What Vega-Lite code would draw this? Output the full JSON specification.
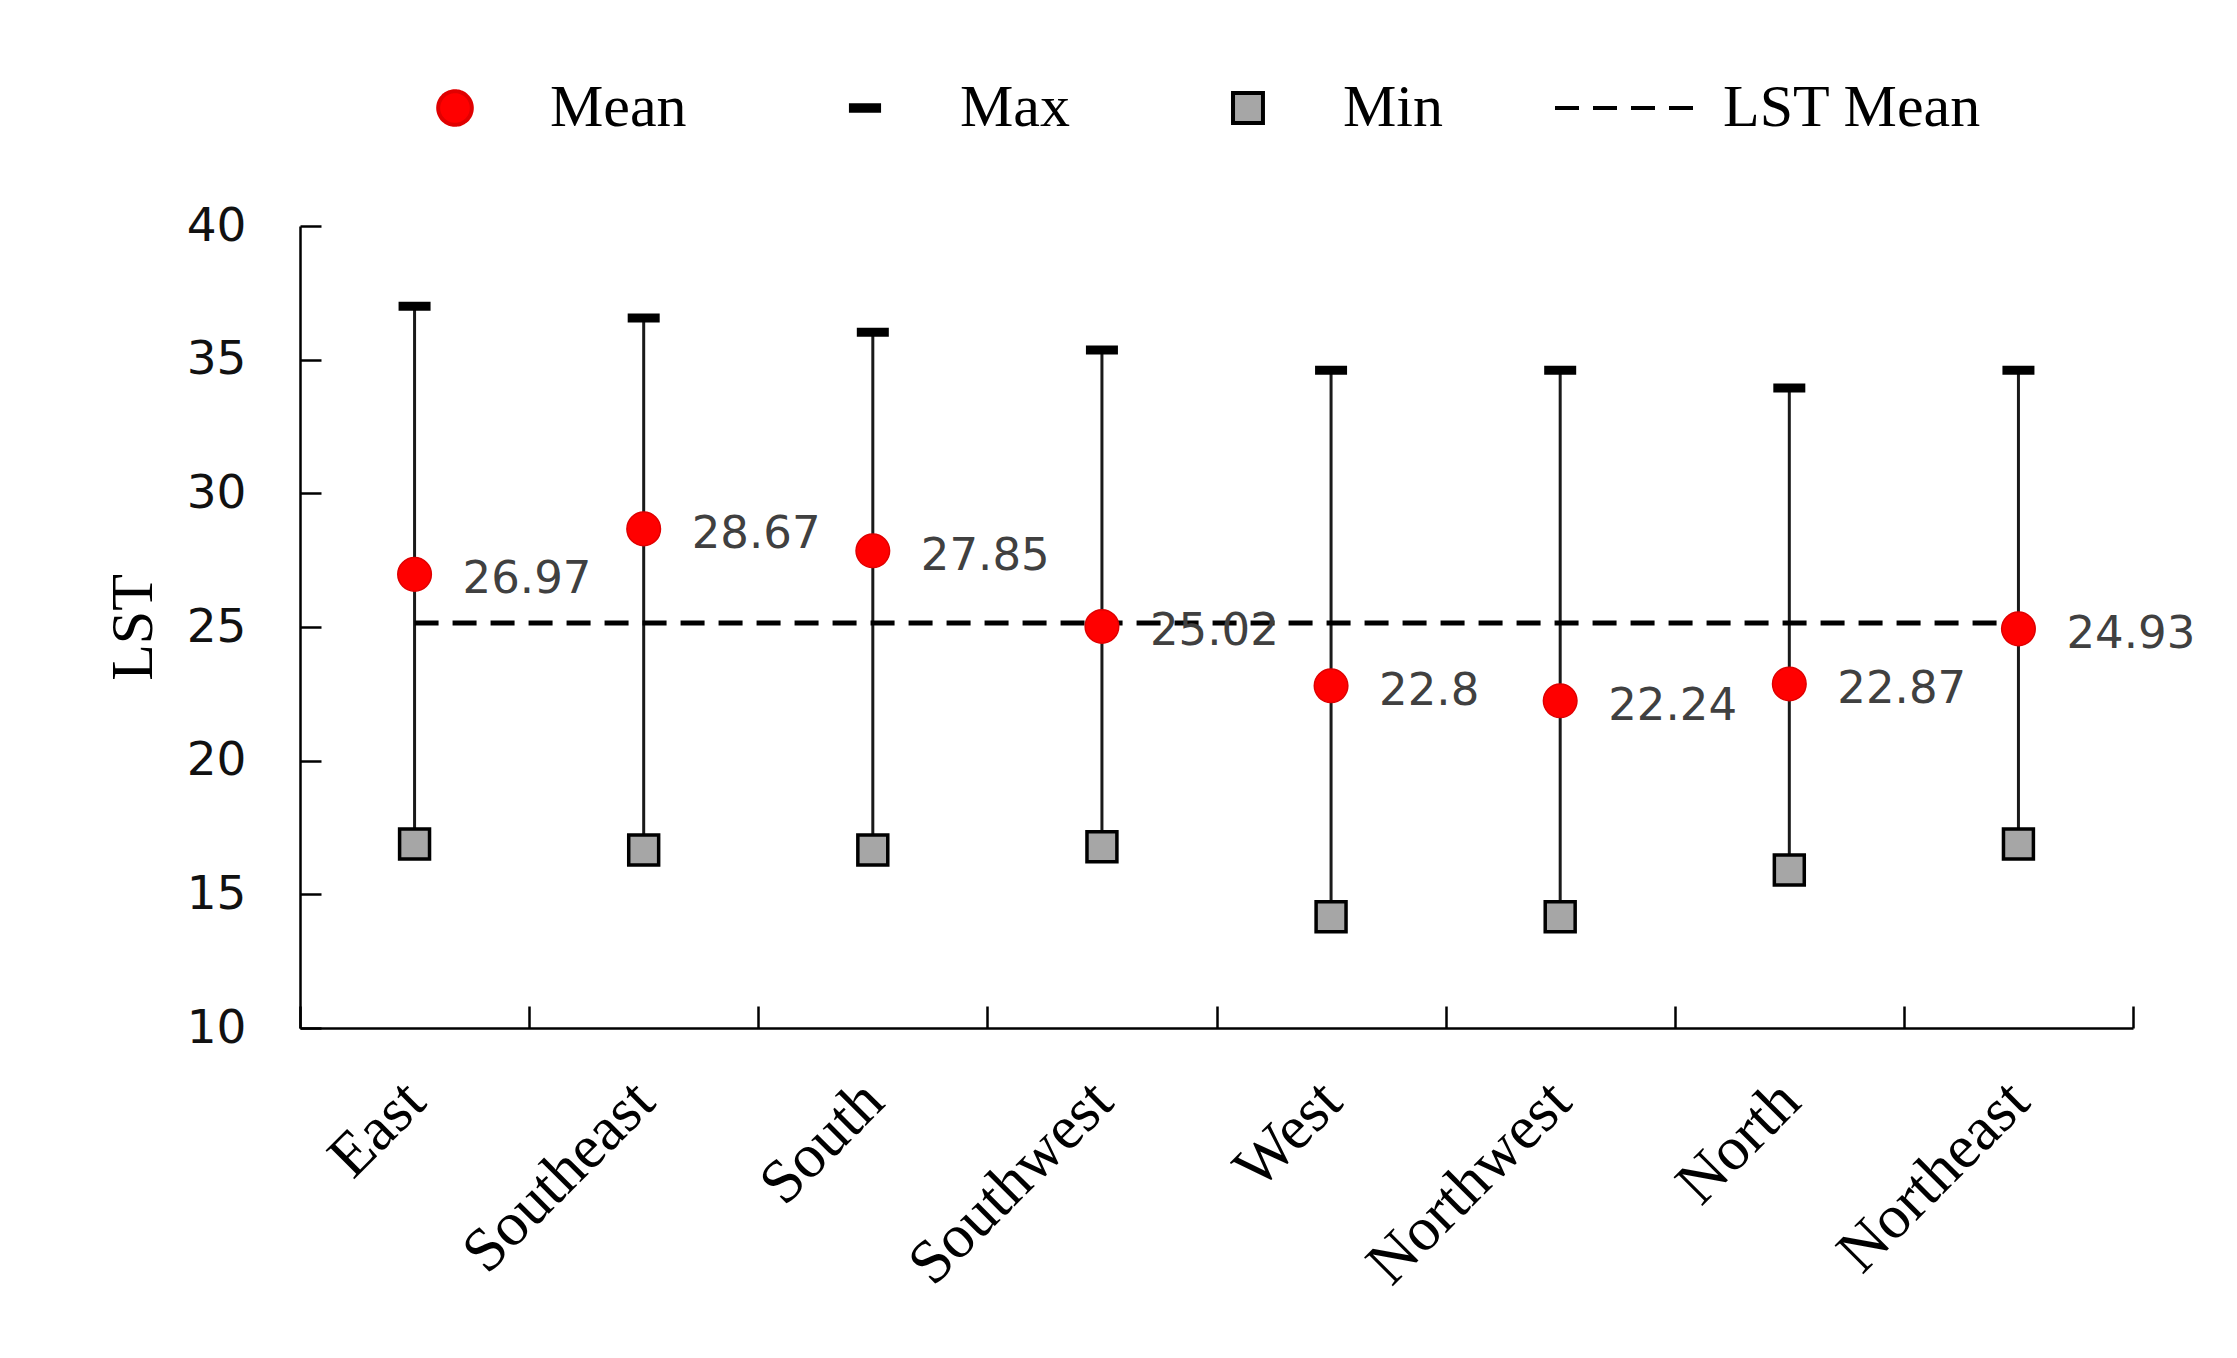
{
  "$schema": "https://vega.github.io/schema/vega-lite/v6.json",
  "autosize": "none",
  "width": 1833,
  "height": 802,
  "padding": {"left": 300, "top": 226, "right": 104, "bottom": 330},
  "background": "white",
  "datasets": {
    "dirs": [
      {"dir": "East", "mean": 26.97, "max": 37.0, "min": 16.88},
      {"dir": "Southeast", "mean": 28.67, "max": 36.56, "min": 16.66},
      {"dir": "South", "mean": 27.85, "max": 36.03, "min": 16.66},
      {"dir": "Southwest", "mean": 25.02, "max": 35.36, "min": 16.78},
      {"dir": "West", "mean": 22.8, "max": 34.6, "min": 14.16},
      {"dir": "Northwest", "mean": 22.24, "max": 34.6, "min": 14.16},
      {"dir": "North", "mean": 22.87, "max": 33.94, "min": 15.91},
      {"dir": "Northeast", "mean": 24.93, "max": 34.6, "min": 16.88}
    ],
    "lst": [{"from": "East", "to": "Northeast", "lst": 25.15}]
  },
  "data": {"name": "dirs"},
  "encoding": {
    "x": {
      "field": "dir",
      "type": "nominal",
      "sort": null,
      "scale": {"type": "band", "paddingInner": 0, "paddingOuter": 0},
      "axis": {
        "title": null,
        "tickBand": "extent",
        "tickSize": -22,
        "tickWidth": 2.5,
        "tickColor": "black",
        "domainColor": "black",
        "domainWidth": 2.5,
        "labelAngle": -45,
        "labelAlign": "right",
        "labelBaseline": "middle",
        "labelPadding": 85,
        "labelFont": "Liberation Serif",
        "labelFontSize": 62,
        "labelColor": "black",
        "labelLimit": 500,
        "grid": false
      }
    }
  },
  "layer": [
    {
      "mark": {"type": "rule", "color": "#1a1a1a", "strokeWidth": 3},
      "encoding": {
        "y": {
          "field": "min",
          "type": "quantitative",
          "scale": {"domain": [10, 40], "nice": false, "zero": false},
          "axis": {
            "title": "LST",
            "values": [10, 15, 20, 25, 30, 35, 40],
            "grid": false,
            "tickSize": -21,
            "tickWidth": 2.5,
            "tickColor": "black",
            "domainColor": "black",
            "domainWidth": 2.5,
            "labelFont": "DejaVu Sans",
            "labelFontSize": 47,
            "labelColor": "#111111",
            "labelPadding": 75,
            "titleFont": "Liberation Serif",
            "titleFontSize": 60,
            "titleFontWeight": "normal",
            "titleColor": "black",
            "titlePadding": 22
          }
        },
        "y2": {"field": "max"}
      }
    },
    {
      "data": {"name": "lst"},
      "mark": {"type": "rule", "strokeWidth": 5},
      "encoding": {
        "x": {"field": "from", "type": "nominal", "bandPosition": 0.5},
        "x2": {"field": "to", "bandPosition": 0.5},
        "y": {"field": "lst", "type": "quantitative"},
        "stroke": {
          "datum": "LST Mean",
          "scale": {"domain": ["Mean", "Max", "Min", "LST Mean"], "range": ["#e00000", "transparent", "#000000", "#000000"]},
          "legend": {"title": null}
        },
        "strokeDash": {
          "datum": "LST Mean",
          "scale": {"domain": ["Mean", "Max", "Min", "LST Mean"], "range": [[1, 0], [1, 0], [1, 0], [24, 14]]},
          "legend": {"title": null}
        }
      }
    },
    {
      "mark": {"type": "tick", "size": 32, "thickness": 9, "opacity": 1},
      "encoding": {
        "y": {"field": "max", "type": "quantitative"},
        "fill": {
          "datum": "Max",
          "scale": {"domain": ["Mean", "Max", "Min", "LST Mean"], "range": ["#ff0000", "#000000", "#a6a6a6", "transparent"]},
          "legend": {"title": null}
        },
        "stroke": {"datum": "Max"}
      }
    },
    {
      "mark": {"type": "point", "filled": true, "size": 21316, "strokeWidth": 3.5, "opacity": 1},
      "encoding": {
        "y": {"field": "min", "type": "quantitative"},
        "fill": {"datum": "Min"},
        "stroke": {"datum": "Min"},
        "shape": {
          "datum": "Min",
          "scale": {
            "domain": ["Mean", "Max", "Min", "LST Mean"],
            "range": [
              "M0.23,0A0.23,0.23,0,1,1,-0.23,0A0.23,0.23,0,1,1,0.23,0Z",
              "M-0.22,-0.065H0.22V0.065H-0.22Z",
              "M-0.205,-0.205H0.205V0.205H-0.205Z",
              "M-1,0H1"
            ]
          },
          "legend": {"title": null}
        }
      }
    },
    {
      "mark": {"type": "point", "filled": true, "size": 21316, "strokeWidth": 1.5, "opacity": 1},
      "encoding": {
        "y": {"field": "mean", "type": "quantitative"},
        "stroke": {"datum": "Mean"},
        "shape": {"datum": "Mean"},
        "fill": {
          "datum": "Mean",
          "legend": {
            "title": null,
            "orient": "none",
            "legendX": 80,
            "legendY": -193,
            "direction": "horizontal",
            "padding": 0,
            "symbolSize": 21316,
            "symbolStrokeWidth": 4,
            "symbolOpacity": 1,
            "labelOffset": 20,
            "columnPadding": 103,
            "labelFont": "Liberation Serif",
            "labelFontSize": 60,
            "labelColor": "black",
            "labelLimit": 500,
            "labelBaseline": "middle"
          }
        }
      }
    },
    {
      "mark": {"type": "text", "align": "left", "baseline": "middle", "dx": 48, "dy": 5, "font": "DejaVu Sans", "fontSize": 45, "color": "#404040"},
      "encoding": {
        "y": {"field": "mean", "type": "quantitative"},
        "text": {"field": "mean", "type": "quantitative", "format": ".4~g"}
      }
    }
  ],
  "config": {
    "view": {"stroke": null},
    "legend": {
      "orient": "none",
      "legendX": 80,
      "legendY": -193,
      "direction": "horizontal",
      "padding": 0,
      "symbolSize": 21316,
      "symbolStrokeWidth": 4,
      "symbolOpacity": 1,
      "labelOffset": 20,
      "columnPadding": 103,
      "labelFont": "Liberation Serif",
      "labelFontSize": 60,
      "labelColor": "black",
      "labelLimit": 500,
      "labelBaseline": "middle"
    }
  }
}
